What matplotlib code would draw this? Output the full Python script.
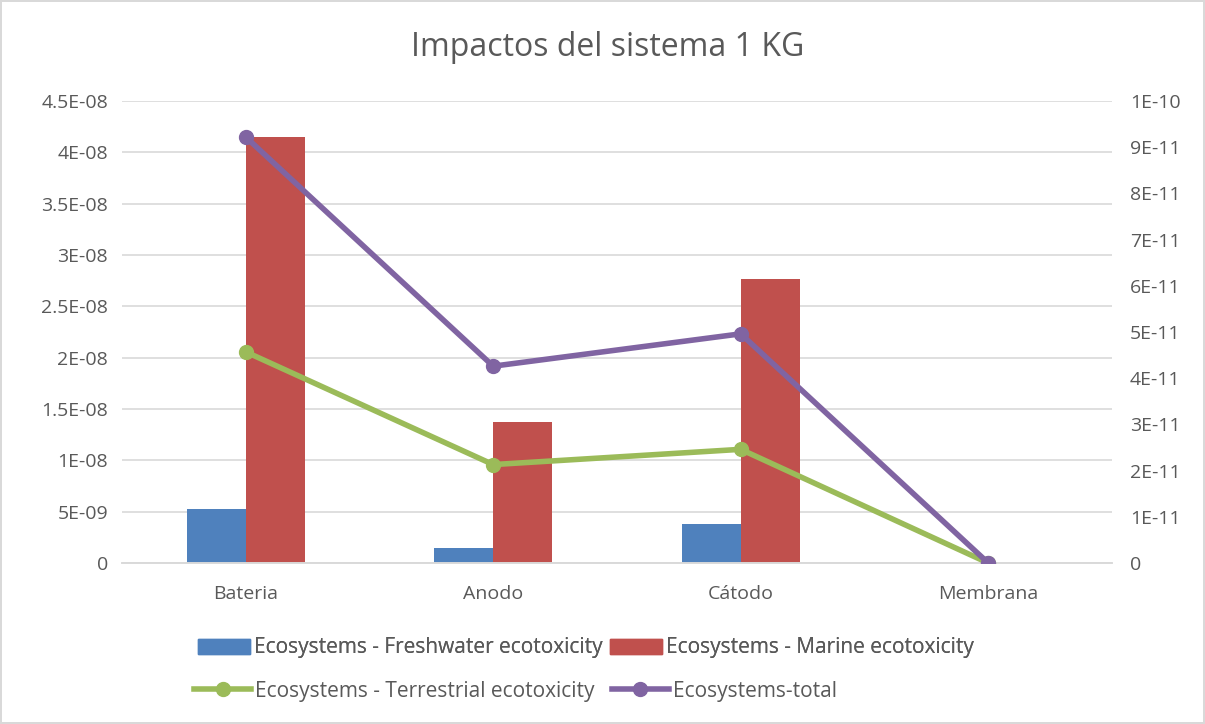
import numpy as np
import matplotlib.pyplot as plt
from matplotlib.lines import Line2D
from matplotlib.patches import Patch
from matplotlib.ticker import FixedLocator

categorias = ["Bateria", "Anodo", "Cátodo", "Membrana"]
freshwater = [5.3e-9, 1.5e-9, 3.8e-9, 0.0]
marine = [4.15e-8, 1.37e-8, 2.77e-8, 0.0]
terrestrial = [4.57e-11, 2.13e-11, 2.46e-11, 0.0]
total = [9.22e-11, 4.26e-11, 4.96e-11, 0.0]

left_ticks = [0, 5e-9, 1e-8, 1.5e-8, 2e-8, 2.5e-8, 3e-8, 3.5e-8, 4e-8, 4.5e-8]
left_labels = ["0", "5E-09", "1E-08", "1.5E-08", "2E-08", "2.5E-08", "3E-08", "3.5E-08", "4E-08", "4.5E-08"]
right_ticks = [i * 1e-11 for i in range(11)]
right_labels = ["0"] + [f"{i}E-11" for i in range(1, 10)] + ["1E-10"]

c_fresh, c_marine = "#4f81bd", "#c0504d"
c_terr, c_total = "#9bbb59", "#8064a2"
txt = "#595959"

plt.rcParams["font.family"] = ["Open Sans", "DejaVu Sans"]

fig = plt.figure(figsize=(12.05, 7.24), dpi=100)
fig.patch.set_edgecolor("#d9d9d9")
fig.patch.set_linewidth(1.5)
ax = fig.add_axes([0.1012, 0.2224, 0.8216, 0.6381])
ax2 = ax.twinx()

x = np.arange(len(categorias))
w = 0.238
ax.bar(x - w / 2, freshwater, w, color=c_fresh, zorder=2)
ax.bar(x + w / 2, marine, w, color=c_marine, zorder=2)

ax2.plot(x, terrestrial, color=c_terr, lw=4, marker="o", ms=10, zorder=3)
ax2.plot(x, total, color=c_total, lw=4, marker="o", ms=10, zorder=4)

ax.set_xlim(-0.5, 3.5)
ax.set_ylim(0, 4.5e-8)
ax2.set_ylim(0, 1e-10)
ax.yaxis.set_major_locator(FixedLocator(left_ticks))
ax.set_yticklabels(left_labels)
ax2.yaxis.set_major_locator(FixedLocator(right_ticks))
ax2.set_yticklabels(right_labels)
ax.set_xticks(x)
ax.set_xticklabels(categorias)

ax.grid(axis="y", color="#d9d9d9", lw=1.2, zorder=0)
ax.set_axisbelow(True)
for a in (ax, ax2):
    for s in ("top", "left", "right"):
        a.spines[s].set_visible(False)
    a.spines["bottom"].set_color("#d9d9d9")
    a.spines["bottom"].set_linewidth(1.2)
    a.tick_params(length=0, labelsize=14, labelcolor=txt)
ax.tick_params(axis="x", pad=16)
ax.tick_params(axis="y", pad=10)
ax2.tick_params(axis="y", pad=13)

fig.text(0.5045, 0.934, "Impactos del sistema 1 KG", ha="center", va="center",
         fontsize=23, color=txt)

row1 = [Patch(color=c_fresh), Patch(color=c_marine)]
row2 = [Line2D([], [], color=c_terr, lw=4, marker="o", ms=10),
        Line2D([], [], color=c_total, lw=4, marker="o", ms=10)]
kw = dict(loc="center left", frameon=False, fontsize=15, labelcolor=txt,
          handletextpad=0.2, ncol=2, borderaxespad=0, borderpad=0)
leg1 = fig.legend(row1, ["Ecosystems - Freshwater ecotoxicity", "Ecosystems - Marine ecotoxicity"],
                  bbox_to_anchor=(0.164, 1 - 648 / 724), handlelength=2.5, handleheight=0.75,
                  columnspacing=0.35, **kw)
fig.add_artist(leg1)
fig.legend(row2, ["Ecosystems - Terrestrial ecotoxicity", "Ecosystems-total"],
           bbox_to_anchor=(0.161, 1 - 691 / 724), handlelength=2.75, columnspacing=0.8, **kw)

fig.savefig("out.png", dpi=100)
